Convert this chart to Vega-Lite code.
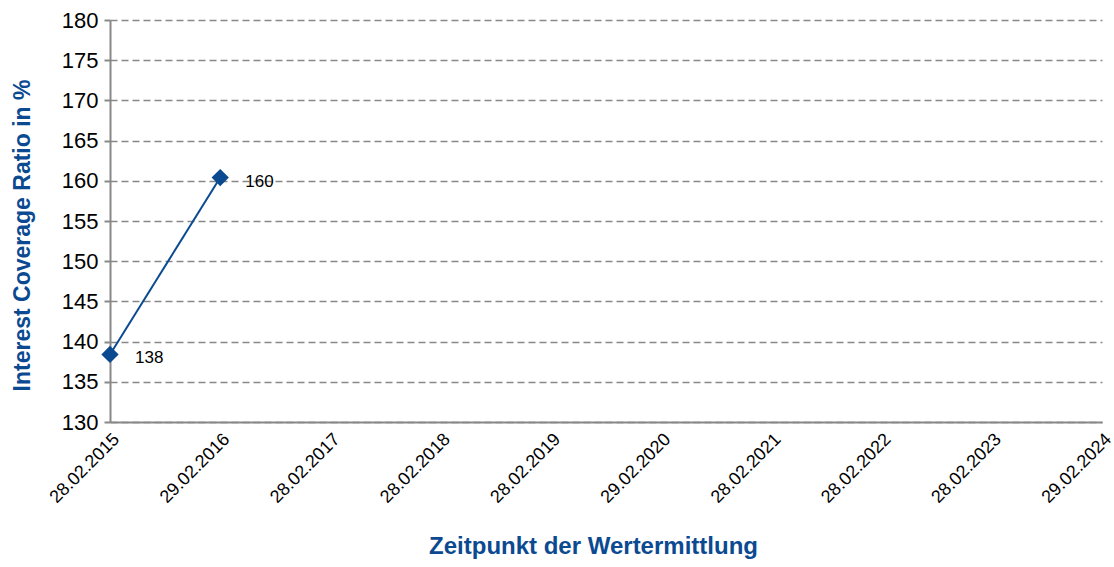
{
  "$schema": "https://vega.github.io/schema/vega-lite/v6.json",
  "autosize": "none",
  "width": 992,
  "height": 402,
  "padding": {"left": 110, "top": 20, "right": 12, "bottom": 145},
  "background": "white",
  "config": {
    "view": {"stroke": null},
    "font": "Liberation Sans"
  },
  "data": {
    "values": [
      {"datum": "28.02.2015", "order": 1, "ratio": 138.4},
      {"datum": "29.02.2016", "order": 2, "ratio": 160.4},
      {"datum": "28.02.2017", "order": 3, "ratio": null},
      {"datum": "28.02.2018", "order": 4, "ratio": null},
      {"datum": "28.02.2019", "order": 5, "ratio": null},
      {"datum": "29.02.2020", "order": 6, "ratio": null},
      {"datum": "28.02.2021", "order": 7, "ratio": null},
      {"datum": "28.02.2022", "order": 8, "ratio": null},
      {"datum": "28.02.2023", "order": 9, "ratio": null},
      {"datum": "29.02.2024", "order": 10, "ratio": null}
    ]
  },
  "encoding": {
    "x": {
      "field": "datum",
      "type": "ordinal",
      "scale": {
        "type": "point",
        "padding": 0,
        "domain": ["28.02.2015", "29.02.2016", "28.02.2017", "28.02.2018", "28.02.2019", "29.02.2020", "28.02.2021", "28.02.2022", "28.02.2023", "29.02.2024"]
      },
      "axis": {
        "title": "Zeitpunkt der Wertermittlung",
        "titleFont": "Liberation Sans",
        "titleFontSize": 24,
        "titleFontWeight": "bold",
        "titleColor": "#0B4A91",
        "titlePadding": 28,
        "titleX": 483,
        "labelAngle": -45,
        "labelAlign": "right",
        "labelBaseline": "top",
        "labelFontSize": 18,
        "labelColor": "#000000",
        "labelPadding": 8,
        "labelFont": "Liberation Sans",
        "labelOverlap": false,
        "ticks": false,
        "grid": false,
        "domainColor": "#888888",
        "domainWidth": 2
      }
    },
    "y": {
      "field": "ratio",
      "type": "quantitative",
      "scale": {"domain": [130, 180], "nice": false, "zero": false},
      "axis": {
        "title": "Interest Coverage Ratio in %",
        "titleFont": "Liberation Sans",
        "titleFontSize": 23,
        "titleFontWeight": "bold",
        "titleColor": "#0B4A91",
        "titlePadding": 27,
        "titleY": 215,
        "values": [130, 135, 140, 145, 150, 155, 160, 165, 170, 175, 180],
        "labelFontSize": 22,
        "labelColor": "#000000",
        "labelFont": "Liberation Sans",
        "labelPadding": 6,
        "tickColor": "#888888",
        "tickSize": 6,
        "tickWidth": 2,
        "domainColor": "#888888",
        "domainWidth": 2,
        "grid": true,
        "gridColor": "#888888",
        "gridDash": [7, 4],
        "gridWidth": 1.5
      }
    }
  },
  "layer": [
    {
      "transform": [{"filter": "datum.ratio != null"}],
      "mark": {"type": "line", "color": "#0B4A91", "strokeWidth": 2}
    },
    {
      "transform": [{"filter": "datum.ratio != null"}],
      "mark": {"type": "point", "shape": "diamond", "filled": true, "color": "#0B4A91", "size": 300, "opacity": 1}
    },
    {
      "transform": [{"filter": "datum.ratio != null"}],
      "mark": {"type": "text", "align": "left", "dx": 25, "dy": 4, "fontSize": 17, "color": "#000000", "font": "Liberation Sans"},
      "encoding": {
        "text": {"field": "ratio", "type": "quantitative", "format": ".0f"}
      }
    }
  ]
}
